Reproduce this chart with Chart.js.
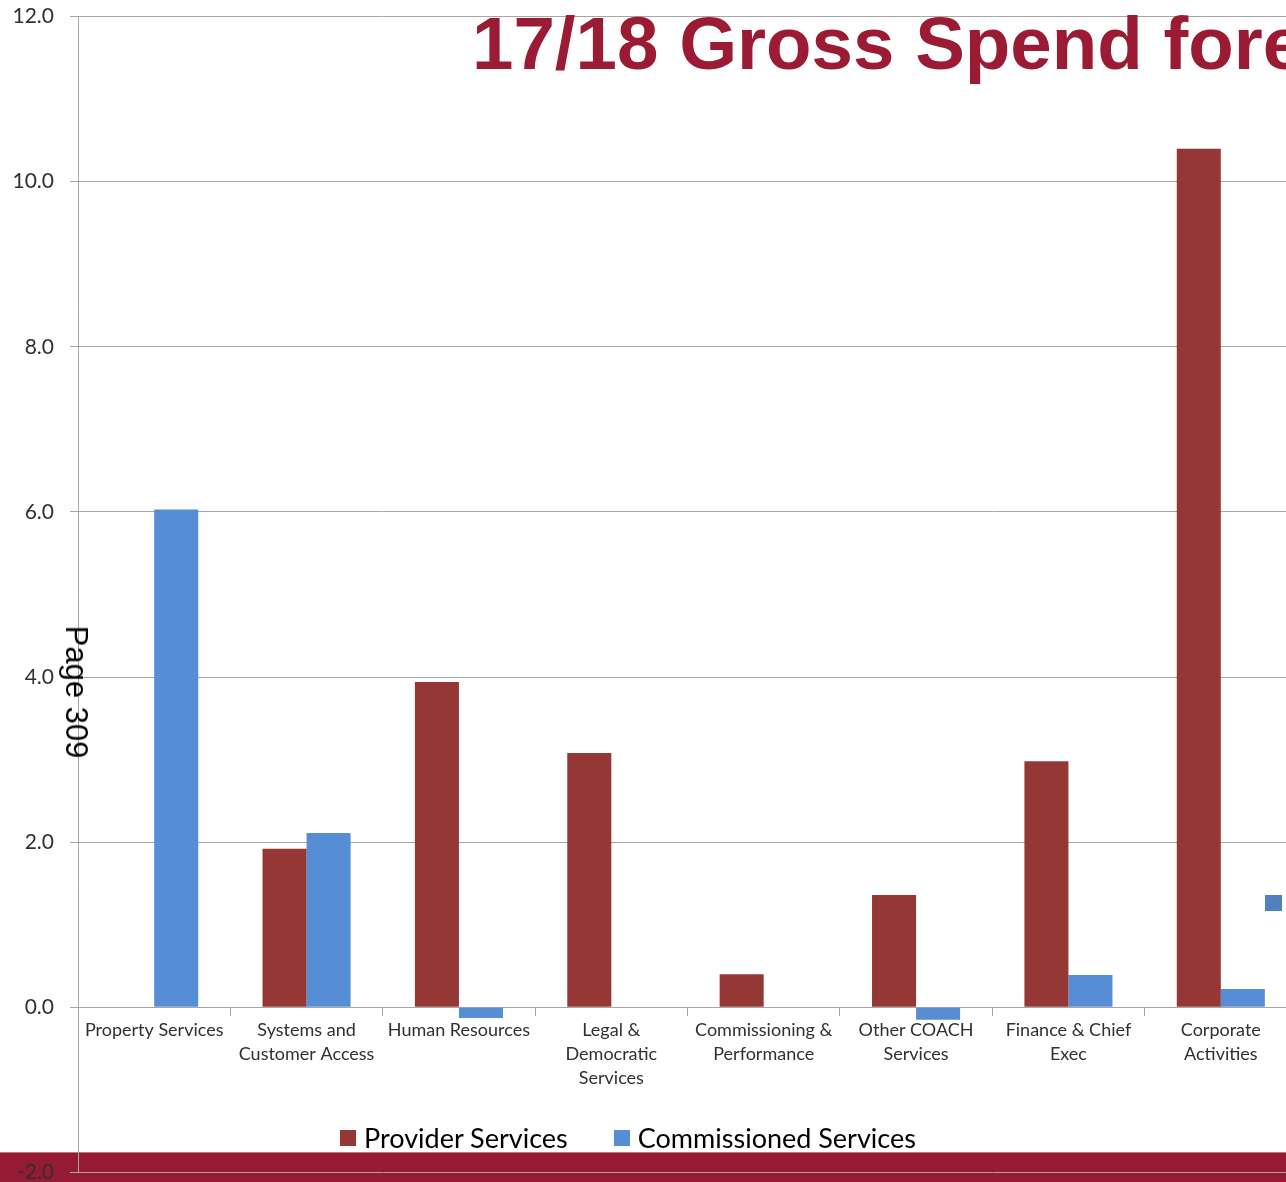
<!DOCTYPE html>
<html>
<head>
<meta charset="utf-8">
<script src="https://cdn.jsdelivr.net/npm/chart.js@4"></script>
<style>
    html, body { margin: 0; padding: 0; background: #fff; }
    body { width: 1286px; height: 1182px; overflow: hidden; position: relative; }
    #band { position: absolute; left: 0; top: 1152px; width: 1286px; height: 30px; background: #951a33; border-top: 1px solid #c0707e; box-sizing: border-box; }
    #wrap { position: absolute; left: 0; top: -12px; width: 1310px; height: 1213px; }
    #title { position: absolute; left: 472px; top: 1px; white-space: nowrap; font-family: "Liberation Sans", Arial, sans-serif; font-weight: bold; font-size: 74.5px; color: #9a1b33; }
    #page { position: absolute; left: 76px; top: 692px; white-space: nowrap; font-family: "Liberation Sans", Arial, sans-serif; font-size: 31px; color: #000; transform: translate(-50%, -50%) rotate(90deg); }
    #legend { position: absolute; top: 1121px; left: 340px; display: flex; font-family: Lato, sans-serif; font-size: 27px; color: #000; }
    #legend .item { display: flex; align-items: center; margin-right: 46px; }
    #legend .box { width: 16px; height: 16px; margin-right: 8px; }
    #stray { position: absolute; left: 1265px; top: 895px; width: 17px; height: 16px; background: #4f81bd; }
</style>
</head>
<body>
<div id="band"></div>
<div id="wrap"><canvas id="spendChart"></canvas></div>
<div id="title">17/18 Gross Spend fore</div>
<div id="stray"></div>
<div id="legend"></div>
<div id="page">Page 309</div>
<script>
// services along the category axis
var services = [
    'Property Services',
    ['Systems and', 'Customer Access'],
    'Human Resources',
    ['Legal &', 'Democratic', 'Services'],
    ['Commissioning &', 'Performance'],
    ['Other COACH', 'Services'],
    ['Finance & Chief', 'Exec'],
    ['Corporate', 'Activities']
];

// gross spend, £m
var providerServices = [0, 1.92, 3.94, 3.08, 0.40, 1.36, 2.98, 10.40];
var commissionedServices = [6.03, 2.11, -0.13, 0, 0, -0.15, 0.39, 0.22];

var yTicks = [-2, 0, 2, 4, 6, 8, 10, 12];

var gridGrey = '#a6a6a6';
var textGrey = '#303030';

var ctx = document.getElementById('spendChart').getContext('2d');
var spendChart = new Chart(ctx, {
    type: 'bar',
    data: {
        labels: services,
        datasets: [{
            label: 'Provider Services',
            data: providerServices,
            backgroundColor: '#953735'
        }, {
            label: 'Commissioned Services',
            data: commissionedServices,
            backgroundColor: '#558ed5'
        }]
    },
    options: {
        responsive: true,
        maintainAspectRatio: false,
        animation: false,
        barPercentage: 1,
        categoryPercentage: 0.578,
        layout: {
            padding: { left: 0, right: 13, top: 16, bottom: 11 }
        },
        plugins: {
            legend: { display: false },
            tooltip: { enabled: false }
        },
        scales: {
            x: {
                position: { y: 0 },
                afterFit: function (scale) { scale.height = 0; },
                grid: {
                    offset: true,
                    drawOnChartArea: false,
                    color: gridGrey,
                    tickLength: 8
                },
                border: { display: true, color: gridGrey },
                ticks: {
                    maxRotation: 0,
                    autoSkip: false,
                    padding: 3,
                    color: textGrey,
                    font: { family: 'Lato', size: 18, lineHeight: 1.33 }
                }
            },
            y: {
                min: yTicks[0],
                max: yTicks[yTicks.length - 1],
                afterFit: function (scale) { scale.width = 78; },
                afterBuildTicks: function (scale) {
                    scale.ticks = yTicks.map(function (v) { return { value: v }; });
                },
                grid: { color: gridGrey, tickLength: 8 },
                border: { display: true, color: gridGrey },
                ticks: {
                    padding: 16,
                    color: textGrey,
                    font: { family: 'Lato', size: 21 },
                    callback: function (v) { return Number(v).toFixed(1); }
                }
            }
        }
    }
});

// legend below the bars, built from the datasets
var legend = document.getElementById('legend');
spendChart.data.datasets.forEach(function (ds) {
    var item = document.createElement('div');
    item.className = 'item';
    item.innerHTML = '<span class="box" style="background:' + ds.backgroundColor + '"></span>' + ds.label;
    legend.appendChild(item);
});
</script>
</body>
</html>
